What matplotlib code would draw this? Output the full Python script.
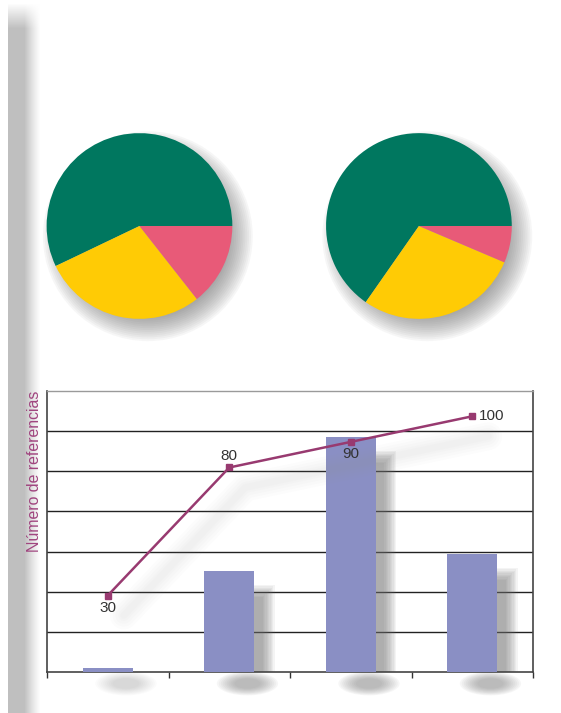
import numpy as np
import matplotlib
matplotlib.use("Agg")
import matplotlib.pyplot as plt
import matplotlib.transforms as mtransforms
from matplotlib.patches import Circle, Rectangle, Ellipse

plt.rcParams['font.family'] = ['Liberation Sans', 'DejaVu Sans']

# datos
pie1_vals = [57.1, 28.5, 14.4]
pie2_vals = [65.3, 28.3, 6.4]
pie_colors = ['#00775f', '#ffcb05', '#e85a78']

categorias = [0, 1, 2, 3]
barras = [1.1, 25.2, 58.5, 29.4]
linea = [30, 80, 90, 100]
etiquetas = ['30', '80', '90', '100']

bar_color = '#8a8fc4'
line_color = '#983a70'

fig = plt.figure(figsize=(5.61, 7.13), dpi=100)
fig.patch.set_facecolor('white')

# franja gris a la izquierda (sombra de página)
bg = fig.add_axes([0, 0, 1, 1], zorder=-10)
bg.set_axis_off()
W, H = 561, 713
xs = np.arange(W)
prof = np.clip((40 - xs) / 16.0, 0, 1) ** 1.2
prof[xs < 8] = 0
ys = np.arange(H)
vprof = np.clip((ys - 3) / 25.0, 0, 1)
dark = np.outer(vprof, prof) * 0.25
img = np.ones((H, W, 3)) * (1 - dark[..., None])
bg.imshow(img, extent=(0, W, H, 0), aspect='auto')
bg.set_xlim(0, W)
bg.set_ylim(H, 0)


def sombra_circulo(ax, cx, cy, r, blur, n=14, a=0.05):
    for k in range(n):
        rr = r + blur * (1 - 2 * k / (n - 1))
        ax.add_patch(Circle((cx, cy), rr, color='#606060', alpha=a, lw=0, zorder=0))


# tartas
for vals, left in [(pie1_vals, 0.0169), (pie2_vals, 0.515)]:
    ax = fig.add_axes([left, 0.5007, 260 / 561, 260 / 713])
    ax.set_facecolor('none')
    sombra_circulo(ax, 0.09, -0.11, 1.0, 0.13)
    wedges, _ = ax.pie(vals, colors=pie_colors, startangle=0, counterclock=True,
                       wedgeprops={'linewidth': 0})
    for w in wedges:
        w.set_zorder(2)
    ax.set_xlim(-1.4, 1.4)
    ax.set_ylim(-1.4, 1.4)
    ax.set_aspect('equal')
    ax.set_axis_off()

# gráfico de barras + línea
axb = fig.add_axes([47 / 561, (713 - 672.3) / 713, 486 / 561, 281.6 / 713])
axb.set_facecolor('none')
axb.set_xlim(-0.5, 3.5)
axb.set_ylim(0, 70)

# sombras de las barras
for x, v in zip(categorias, barras):
    n = 10
    for k in range(n):
        e = 1 - 2 * k / (n - 1)
        axb.add_patch(Rectangle((x - 0.205 + 0.12 - 0.05 * e, 0),
                                0.41 + 0.1 * e, max(v - 5 + 1.5 * e, 0),
                                color='#707070', alpha=0.075, lw=0, zorder=1))
    peso = min(1.0, 0.45 + v / 40)
    for k in range(n):
        s = 1.4 - 0.8 * k / (n - 1)
        axb.add_patch(Ellipse((x + 0.15, -2.8), 0.36 * s, 4.2 * s,
                              color='#707070', alpha=0.06 * peso, lw=0,
                              clip_on=False, zorder=1))

axb.bar(categorias, barras, width=0.41, color=bar_color, zorder=3)

axb.set_yticks(range(10, 70, 10))
axb.yaxis.grid(True, color='#222222', linewidth=1.0)
axb.set_axisbelow(True)
axb.tick_params(axis='y', length=0, labelleft=False)
axb.set_xticks([-0.5, 0.5, 1.5, 2.5, 3.5])
axb.set_xticklabels([])
axb.tick_params(axis='x', direction='out', length=4, color='#333333', width=1)
for s in ['left', 'bottom', 'right']:
    axb.spines[s].set_color('#444444')
    axb.spines[s].set_linewidth(1.2)
axb.spines['top'].set_color('#9a9a9a')
axb.spines['top'].set_linewidth(1.0)

axl = axb.twinx()
axl.set_ylim(0, 110)
axl.set_axis_off()

# sombra de la línea (difusa)
off = mtransforms.ScaledTranslation(16 / 100, -20 / 100, fig.dpi_scale_trans)
for lw in [20, 16, 12, 8, 5]:
    axl.plot(categorias, linea, color='#909090', lw=lw, alpha=0.025,
             solid_capstyle='round', solid_joinstyle='round',
             transform=axl.transData + off, zorder=1)

axl.plot(categorias, linea, color=line_color, lw=1.8, marker='s', markersize=5,
         zorder=5)

offs = [(0, -13), (0, 11), (0, -12), (7, 0)]
has = ['center', 'center', 'center', 'left']
for x, y, t, (dx, dy), ha in zip(categorias, linea, etiquetas, offs, has):
    axl.annotate(t, (x, y), xytext=(dx, dy), textcoords='offset pixels',
                 ha=ha, va='center', fontsize=11, color='#333333', zorder=6)

fig.text(35 / 561, 1 - 471 / 713, 'Número de referencias', rotation=90,
         ha='center', va='center', fontsize=11.4, color='#a0457f')

fig.savefig('out.png', dpi=100)
